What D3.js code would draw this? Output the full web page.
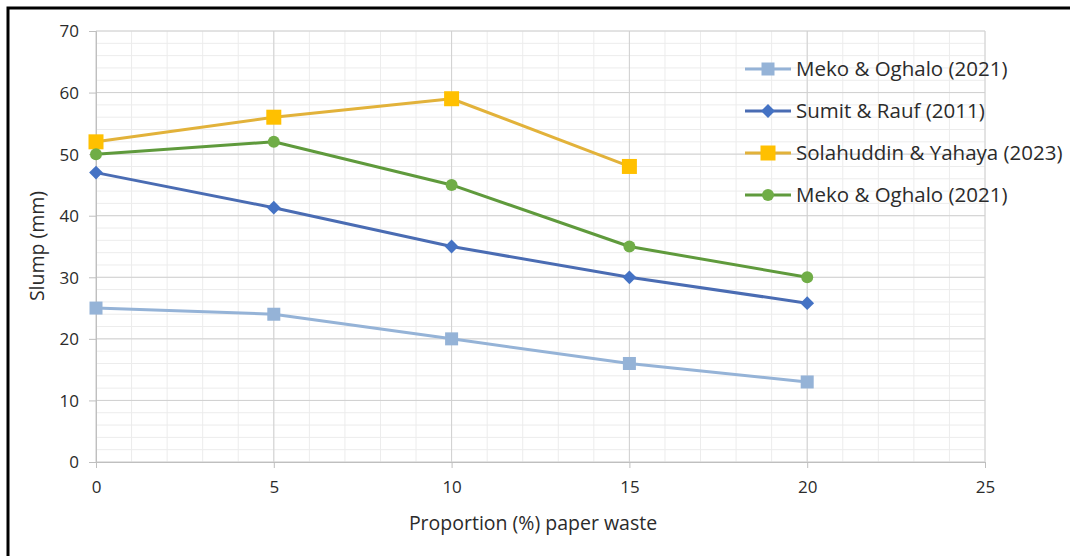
<!DOCTYPE html>
<html>
<head>
<meta charset="utf-8">
<script src="https://cdn.jsdelivr.net/npm/d3@7"></script>
<style>
body{margin:0;background:#fff;}
svg{display:block;font-family:"Open Sans","DejaVu Sans",sans-serif;}
</style>
</head>
<body>
<svg width="1070" height="556"></svg>
<script>
// donnees
var xValues=[0,5,10,15,20];
var mekoLight=[25,24,20,16,13];
var sumit=[47,41.3,35,30,25.8];
var solahuddin=[52,56,59,48];
var mekoGreen=[50,52,45,35,30];
var seriesNames=["Meko & Oghalo (2021)","Sumit & Rauf (2011)","Solahuddin & Yahaya (2023)","Meko & Oghalo (2021)"];
var xTicks=[0,5,10,15,20,25];
var yTicks=[0,10,20,30,40,50,60,70];

var series=[
  {name:seriesNames[0],values:mekoLight,color:"#95b3d7",line:"#95b3d7",marker:"square",size:13},
  {name:seriesNames[1],values:sumit,color:"#4472c4",line:"#4a6cb3",marker:"diamond",size:11},
  {name:seriesNames[2],values:solahuddin,color:"#ffc000",line:"#e2b23a",marker:"square",size:15},
  {name:seriesNames[3],values:mekoGreen,color:"#70ad47",line:"#5f9a3c",marker:"circle",size:12}
];

var textColor="#2b2b2b";
var svg=d3.select("svg");

// cadre
svg.append("rect").attr("x",8).attr("y",8).attr("width",1070).attr("height",560)
   .attr("fill","none").attr("stroke","#000").attr("stroke-width",3);

var x=d3.scaleLinear().domain([0,25]).range([96,985]);
var y=d3.scaleLinear().domain([0,70]).range([462,31]);

// grille mineure
var grid=svg.append("g");
grid.selectAll(".minx").data(d3.range(0,26,1)).enter().append("line")
   .attr("x1",function(d){return x(d);}).attr("x2",function(d){return x(d);})
   .attr("y1",y(0)).attr("y2",y(70)).attr("stroke","#ececec").attr("stroke-width",1);
grid.selectAll(".miny").data(d3.range(0,71,2)).enter().append("line")
   .attr("x1",x(0)).attr("x2",x(25))
   .attr("y1",function(d){return y(d);}).attr("y2",function(d){return y(d);})
   .attr("stroke","#ececec").attr("stroke-width",1);
// grille majeure
grid.selectAll(".majx").data(xTicks).enter().append("line")
   .attr("x1",function(d){return x(d);}).attr("x2",function(d){return x(d);})
   .attr("y1",y(0)).attr("y2",y(70)).attr("stroke","#d0d0d0").attr("stroke-width",1);
grid.selectAll(".majy").data(yTicks).enter().append("line")
   .attr("x1",x(0)).attr("x2",x(25))
   .attr("y1",function(d){return y(d);}).attr("y2",function(d){return y(d);})
   .attr("stroke","#d0d0d0").attr("stroke-width",1);

// axes
var xAxis=svg.append("g").attr("transform","translate(0,"+y(0)+")")
   .call(d3.axisBottom(x).tickValues(xTicks).tickSize(6).tickPadding(13));
var yAxis=svg.append("g").attr("transform","translate("+x(0)+",0)")
   .call(d3.axisLeft(y).tickValues(yTicks).tickSize(7).tickPadding(10));
[xAxis,yAxis].forEach(function(a){
  a.select(".domain").attr("stroke","#bfbfbf");
  a.selectAll(".tick line").attr("stroke","#bfbfbf");
  a.selectAll("text").attr("fill",textColor).style("font-size","17px").style("font-family","'Open Sans','DejaVu Sans',sans-serif");
});
yAxis.selectAll("text").attr("dy","0.35em");

// titres d'axes
svg.append("text").attr("x",533).attr("y",530).attr("text-anchor","middle")
   .attr("fill",textColor).style("font-size","19.5px").text("Proportion (%) paper waste");
svg.append("text").attr("transform","translate(44,246) rotate(-90)").attr("text-anchor","middle")
   .attr("fill",textColor).style("font-size","19.5px").text("Slump (mm)");

function drawMarker(g,type,cx,cy,s,color){
  if(type==="square"){
    g.append("rect").attr("x",cx-s/2).attr("y",cy-s/2).attr("width",s).attr("height",s).attr("fill",color);
  }else if(type==="diamond"){
    g.append("path").attr("d",d3.symbol().type(d3.symbolDiamond2).size(s*s*1.0)).attr("transform","translate("+cx+","+cy+")").attr("fill",color);
  }else{
    g.append("circle").attr("cx",cx).attr("cy",cy).attr("r",s/2).attr("fill",color);
  }
}

var line=d3.line().x(function(d,i){return x(xValues[i]);}).y(function(d){return y(d);});

series.forEach(function(s){
  var g=svg.append("g");
  g.append("path").datum(s.values).attr("d",line).attr("fill","none")
   .attr("stroke",s.line).attr("stroke-width",3).attr("stroke-linejoin","round");
  s.values.forEach(function(v,i){drawMarker(g,s.marker,x(xValues[i]),y(v),s.size,s.color);});
});

// legende
var leg=svg.append("g");
series.forEach(function(s,i){
  var ly=69+i*42;
  leg.append("line").attr("x1",745).attr("x2",791).attr("y1",ly).attr("y2",ly)
     .attr("stroke",s.line).attr("stroke-width",3);
  drawMarker(leg,s.marker,768,ly,s.size,s.color);
  leg.append("text").attr("x",796).attr("y",ly).attr("dy","0.36em")
     .attr("fill",textColor).style("font-size","20.5px").text(s.name);
});
</script>
</body>
</html>
